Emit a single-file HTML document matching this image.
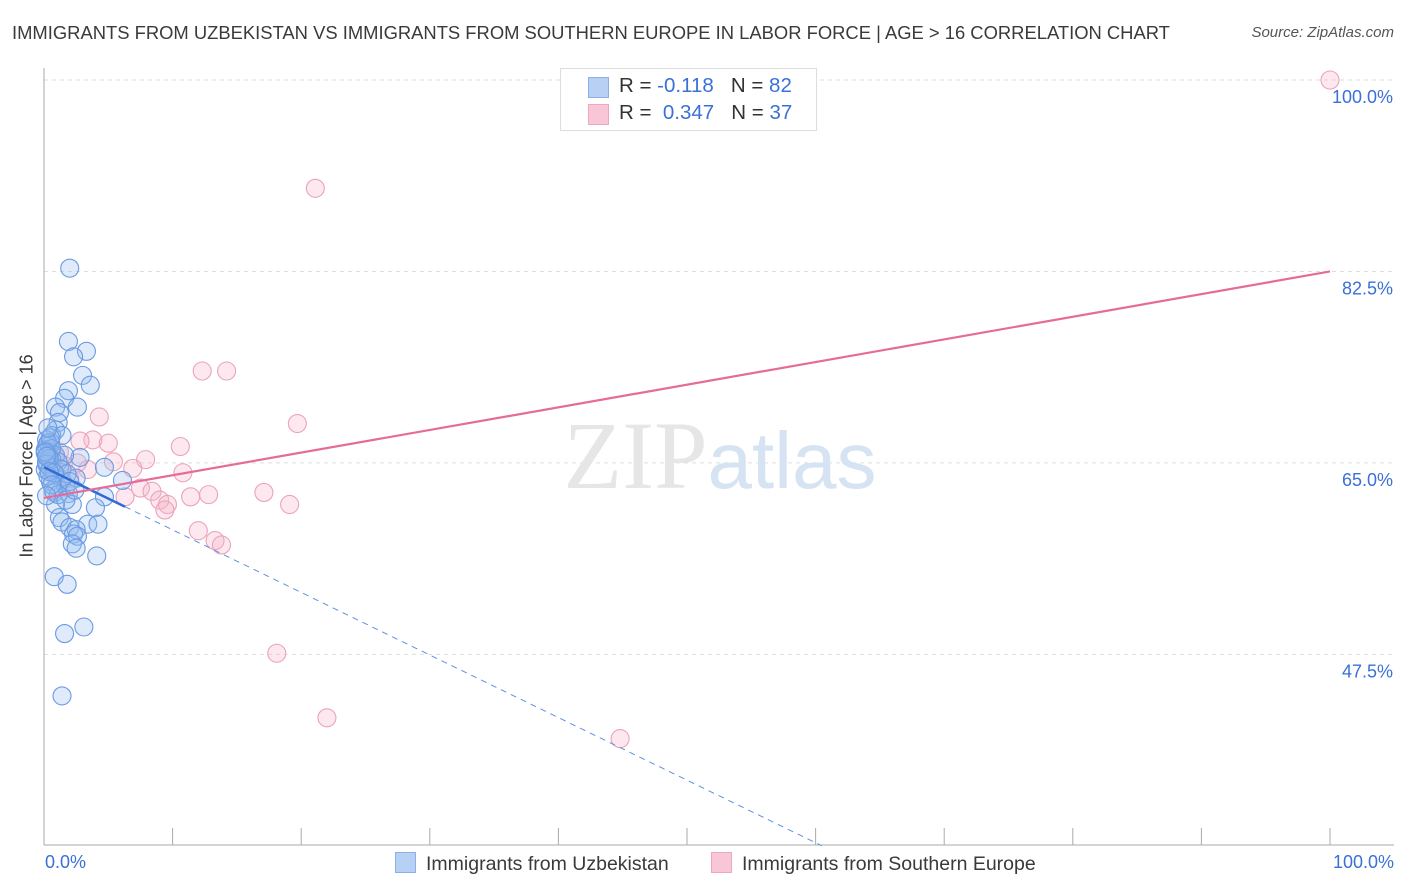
<!DOCTYPE html>
<html><head><meta charset="utf-8"><style>
body{margin:0;background:#fff;font-family:"Liberation Sans",sans-serif;}
#wrap{position:relative;width:1406px;height:892px;overflow:hidden;}
.t{position:absolute;white-space:nowrap;}
</style></head><body>
<div id="wrap">
<div class="t" style="left:12px;top:22px;font-size:18.4px;color:#3a3a3a;">IMMIGRANTS FROM UZBEKISTAN VS IMMIGRANTS FROM SOUTHERN EUROPE IN LABOR FORCE | AGE &gt; 16 CORRELATION CHART</div>
<div class="t" style="right:12px;top:24px;font-size:15px;color:#555;font-style:italic;">Source: ZipAtlas.com</div>
<svg id="svg" width="1406" height="892" style="position:absolute;left:0;top:0"></svg>
</div>
<script>
const blueX=[2.0,1.9,3.3,2.3,3.0,3.6,1.9,1.6,2.6,0.9,1.2,1.1,0.9,0.6,1.4,0.5,0.2,0.5,0.9,2.8,1.6,0.6,0.3,1.2,4.7,0.1,0.9,2.5,1.4,0.5,6.1,1.0,1.7,0.8,1.9,4.7,2.2,0.9,4.0,1.2,1.4,2.0,3.4,4.2,2.5,2.3,2.6,2.2,2.5,4.1,0.8,1.8,3.1,1.6,1.4,0.2,0.1,0.3,0.2,0.5,0.7,1.1,1.7,1.1,1.4,1.8,2.0,2.4,0.3,0.6,0.1,0.4,0.2,0.8,0.3,0.5,0.1,0.2,0.4,0.6,0.2,0.3];
const blueY=[82.8,76.1,75.2,74.7,73.0,72.1,71.6,70.9,70.1,70.1,69.6,68.7,68.0,67.5,67.5,66.9,66.5,66.0,65.7,65.5,65.7,65.3,64.8,64.5,64.6,64.4,63.9,63.6,63.4,63.3,63.4,62.9,62.8,62.3,62.2,61.9,61.2,61.2,60.9,60.0,59.6,59.1,59.4,59.4,58.9,58.5,58.3,57.6,57.2,56.5,54.6,53.9,50.0,49.4,43.7,67.1,66.2,65.7,65.1,64.5,62.5,62.1,61.6,65.1,64.4,64.0,63.3,62.5,66.8,66.3,65.9,65.4,64.9,64.1,63.8,67.3,66.0,65.6,64.2,63.0,62.0,68.2];
const pinkX=[100,21.1,12.3,14.2,19.7,4.3,10.6,3.8,5.0,2.8,7.9,5.4,6.9,10.8,3.4,1.5,0.9,7.5,8.4,6.3,9.0,11.4,12.8,17.1,19.1,9.6,9.4,12.0,13.3,13.8,18.1,22.0,44.8,1.2,0.5,2.0,2.6];
const pinkY=[100,90.1,73.4,73.4,68.6,69.2,66.5,67.1,66.8,67.0,65.3,65.1,64.5,64.1,64.4,64.8,65.5,62.7,62.4,61.9,61.6,61.9,62.1,62.3,61.2,61.2,60.7,58.8,57.9,57.5,47.6,41.7,39.8,66.0,64.4,63.6,65.0];
const yTicks=[100,82.5,65,47.5];
const blueFit=[64.6,-0.572], pinkFit=[61.8,0.207];
const X=v=>44+v*12.86, Y=v=>80+(100-v)*10.94;
const s=document.getElementById('svg'), NS='http://www.w3.org/2000/svg';
function el(t,a){const e=document.createElementNS(NS,t);for(const k in a)e.setAttribute(k,a[k]);s.appendChild(e);return e;}
yTicks.forEach(v=>{
 const g=el('line',{x1:44,x2:1394,y1:Y(v),y2:Y(v),stroke:'#ddd','stroke-dasharray':'4,4'});
 
 
 const t=el('text',{x:1393,y:Y(v)+23,'text-anchor':'end','font-size':18,fill:'#3a70d8','font-family':'Liberation Sans'});
 t.textContent=(v===100?'100.0':v.toFixed(1))+'%';
 
 
});
const ax=el('line',{x1:44,x2:44,y1:68,y2:845,stroke:'#aaa'});


const bx=el('line',{x1:44,x2:1394,y1:845,y2:845,stroke:'#aaa'});


for(let i=1;i<=10;i++){const tk=el('line',{x1:X(i*10),x2:X(i*10),y1:828,y2:845,stroke:'#aaa'});
 
 }
const wm=el('text',{x:720,y:488,'text-anchor':'middle','font-size':96,fill:'#e6e6e6','font-family':'Liberation Serif'});
wm.innerHTML='ZIP<tspan fill="#d6e3f3" font-family="Liberation Sans" font-size="80">atlas</tspan>';


pinkX.forEach((x,i)=>{const c=el('circle',{cx:X(x),cy:Y(pinkY[i]),r:9,fill:'rgba(246,178,200,0.3)',stroke:'#eba3bb','stroke-width':1.1});
 
 });
blueX.forEach((x,i)=>{const c=el('circle',{cx:X(x),cy:Y(blueY[i]),r:9,fill:'rgba(150,188,240,0.3)',stroke:'#6a9ae4','stroke-width':1.1});
 
 });
const by=x=>blueFit[0]+blueFit[1]*x, py=x=>pinkFit[0]+pinkFit[1]*x;
const xEnd=(30-blueFit[0])/blueFit[1];
const bd=el('line',{x1:X(6.3),y1:Y(by(6.3)),x2:X(xEnd),y2:Y(by(xEnd)),stroke:'#5b8fe2','stroke-width':1,'stroke-dasharray':'6,5'});


const bl=el('line',{x1:X(0),y1:Y(by(0)),x2:X(6.3),y2:Y(by(6.3)),stroke:'#2f6ad8','stroke-width':2.5});


const pl=el('line',{x1:X(0),y1:Y(py(0)),x2:X(100),y2:Y(py(100)),stroke:'#e66b98','stroke-width':2.2});


</script>
<div class="t" style="left:27px;top:456px;font-size:18px;color:#3a3a3a;transform:translate(-50%,-50%) rotate(-90deg);">In Labor Force | Age &gt; 16</div>
<div class="t" style="left:45px;top:852px;font-size:18px;color:#3a70d8;">0.0%</div>
<div class="t" style="right:12px;top:852px;font-size:18px;color:#3a70d8;">100.0%</div>
<div style="position:absolute;left:560px;top:68px;width:255px;height:61px;border:1px solid #ddd;background:#fff;font-size:20.5px;color:#333;">
 <div style="position:absolute;left:27px;top:8px;width:19px;height:19px;background:#b8d0f4;border:1px solid #8ab0ea;"></div>
 <div class="t" style="left:58px;top:5px;">R = <span style="color:#3a70d8">-0.118</span>&nbsp;&nbsp;&nbsp;N = <span style="color:#3a70d8">82</span></div>
 <div style="position:absolute;left:27px;top:35px;width:19px;height:19px;background:#f8c6d6;border:1px solid #f0a8c0;"></div>
 <div class="t" style="left:58px;top:32px;">R = <span style="color:#3a70d8">&nbsp;0.347</span>&nbsp;&nbsp;&nbsp;N = <span style="color:#3a70d8">37</span></div>
</div>
<div style="position:absolute;left:395px;top:852px;font-size:19.5px;color:#3a3a3a;">
 <div style="position:absolute;left:0;top:0;white-space:nowrap;"><span style="display:inline-block;width:19px;height:19px;background:#b8d0f4;border:1px solid #8ab0ea;vertical-align:-3px;margin-right:10px;"></span>Immigrants from Uzbekistan</div>
 <div style="position:absolute;left:316px;top:0;white-space:nowrap;"><span style="display:inline-block;width:19px;height:19px;background:#f8c6d6;border:1px solid #f0a8c0;vertical-align:-3px;margin-right:10px;"></span>Immigrants from Southern Europe</div>
</div>
</body></html>
